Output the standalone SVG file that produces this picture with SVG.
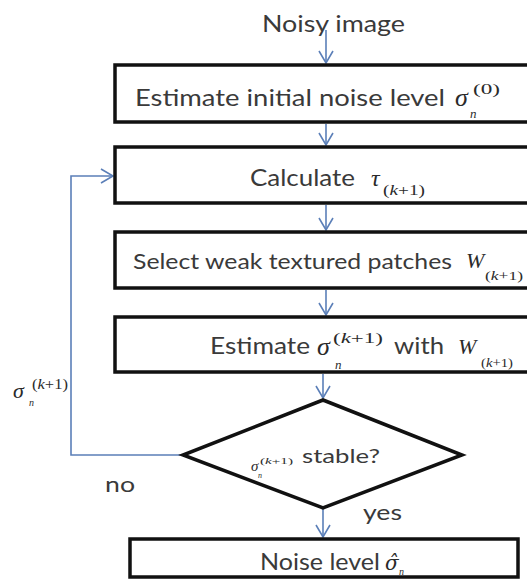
<svg xmlns="http://www.w3.org/2000/svg" width="527" height="580" viewBox="0 0 527 580">
  <style>
    .box { fill: #ffffff; stroke: #111111; stroke-width: 3.5; }
    .lbl { font-family: Lato, "Liberation Sans", Arial, sans-serif; fill: #3a3a3a; }
    .math { font-family: "Liberation Serif", "Times New Roman", serif; font-style: italic; fill: #2a2a2a; }
    .up { font-style: normal; }
    .it { font-style: italic; }
    .wire { fill: none; stroke: #5b7fb8; stroke-width: 1.6; }
  </style>
  <defs>
    <marker id="vhead" viewBox="-14 -9 16 18" markerWidth="16" markerHeight="18" markerUnits="userSpaceOnUse" refX="0" refY="0" orient="auto">
      <path d="M-12,-7 L0,0 L-12,7" fill="none" stroke="#5b7fb8" stroke-width="1.6"/>
    </marker>
  </defs>

  <rect width="527" height="580" fill="#ffffff"/>

  <g id="connectors">
    <line class="wire" x1="326" y1="30" x2="326" y2="63" marker-end="url(#vhead)"/>
    <line class="wire" x1="326" y1="124" x2="326" y2="145" marker-end="url(#vhead)"/>
    <line class="wire" x1="326" y1="205" x2="326" y2="230" marker-end="url(#vhead)"/>
    <line class="wire" x1="326" y1="290" x2="326" y2="315" marker-end="url(#vhead)"/>
    <line class="wire" x1="323" y1="374" x2="323" y2="398" marker-end="url(#vhead)"/>
    <line class="wire" x1="323" y1="508" x2="323" y2="537" marker-end="url(#vhead)"/>
    <polyline class="wire" points="183,455 71,455 71,176 113,176" marker-end="url(#vhead)"/>
  </g>

  <g id="input">
    <text class="lbl" x="262" y="32" font-size="23" textLength="143" lengthAdjust="spacingAndGlyphs">Noisy image</text>
  </g>

  <g id="init-estimate">
    <rect class="box" x="115" y="65" width="430" height="57"/>
    <text class="lbl" x="135" y="106" font-size="24" textLength="310" lengthAdjust="spacingAndGlyphs">Estimate initial noise level</text>
    <text class="math" x="455" y="106" font-size="26">σ</text>
    <text class="math up" x="473" y="94" font-size="14" textLength="27" lengthAdjust="spacingAndGlyphs">(0)</text>
    <text class="math" x="470" y="118" font-size="13">n</text>
  </g>

  <g id="calc-tau">
    <rect class="box" x="115" y="147" width="430" height="56"/>
    <text class="lbl" x="250" y="186" font-size="24" textLength="105" lengthAdjust="spacingAndGlyphs">Calculate</text>
    <text class="math" x="371" y="186" font-size="24">τ</text>
    <text class="math up" x="383" y="195" font-size="14" textLength="42" lengthAdjust="spacingAndGlyphs">(<tspan class="it">k</tspan>+1)</text>
  </g>

  <g id="select-patches">
    <rect class="box" x="115" y="232" width="430" height="56"/>
    <text class="lbl" x="133" y="269" font-size="22" textLength="319" lengthAdjust="spacingAndGlyphs">Select weak textured patches</text>
    <text class="math" x="466" y="268" font-size="22">W</text>
    <text class="math up" x="485" y="280" font-size="13" textLength="38" lengthAdjust="spacingAndGlyphs">(<tspan class="it">k</tspan>+1)</text>
  </g>

  <g id="re-estimate">
    <rect class="box" x="115" y="317" width="430" height="55"/>
    <text class="lbl" x="210" y="354" font-size="23" textLength="100" lengthAdjust="spacingAndGlyphs">Estimate</text>
    <text class="math" x="317" y="355" font-size="26">σ</text>
    <text class="math up" x="333" y="343" font-size="15" textLength="50" lengthAdjust="spacingAndGlyphs">(<tspan class="it">k</tspan>+1)</text>
    <text class="math" x="335" y="369" font-size="13">n</text>
    <text class="lbl" x="394" y="354" font-size="23" textLength="50" lengthAdjust="spacingAndGlyphs">with</text>
    <text class="math" x="458" y="354" font-size="22">W</text>
    <text class="math up" x="481" y="367" font-size="13" textLength="32" lengthAdjust="spacingAndGlyphs">(<tspan class="it">k</tspan>+1)</text>
  </g>

  <g id="stable-check">
    <polygon class="box" points="323,400 462,455 323,508 183,455"/>
    <text class="math" x="251" y="471" font-size="15">σ</text>
    <text class="math up" x="260" y="464" font-size="9" textLength="33" lengthAdjust="spacingAndGlyphs">(<tspan class="it">k</tspan>+1)</text>
    <text class="math" x="258" y="478" font-size="8">n</text>
    <text class="lbl" x="302" y="463" font-size="19" textLength="78" lengthAdjust="spacingAndGlyphs">stable?</text>
  </g>

  <g id="branch-labels">
    <text class="lbl" x="105" y="492" font-size="21" textLength="30" lengthAdjust="spacingAndGlyphs">no</text>
    <text class="lbl" x="363" y="520" font-size="22" textLength="39" lengthAdjust="spacingAndGlyphs">yes</text>
    <text class="math" x="13" y="398" font-size="22">σ</text>
    <text class="math up" x="32" y="389" font-size="14" textLength="36" lengthAdjust="spacingAndGlyphs">(<tspan class="it">k</tspan>+1)</text>
    <text class="math" x="29" y="406" font-size="10">n</text>
  </g>

  <g id="result">
    <rect class="box" x="130" y="539" width="388" height="38"/>
    <text class="lbl" x="260" y="570" font-size="23" textLength="120" lengthAdjust="spacingAndGlyphs">Noise level</text>
    <text class="math" x="385" y="570" font-size="20" style="font-family: 'DejaVu Serif', serif;">σ̂</text>
    <text class="math" x="399" y="575" font-size="10">n</text>
  </g>
</svg>
